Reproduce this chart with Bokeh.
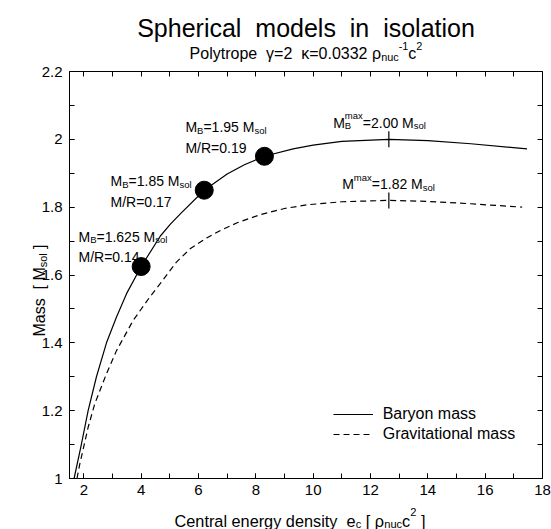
import math
from bokeh.plotting import figure
from bokeh.models import Label, Legend, LegendItem, FixedTicker, LinearAxis, Grid
from bokeh.embed import file_html
from bokeh.resources import INLINE

FONT = "Liberation Sans"

# ---- data ----
baryon_x = [1.66, 1.90, 2.15, 2.44, 2.79, 3.14, 3.49, 4.00, 4.67, 5.02, 5.40, 6.20, 7.00,
            7.60, 8.30, 9.30, 10.00, 11.00, 12.64, 14.00, 15.50, 17.46]
baryon_y = [1.000, 1.095, 1.200, 1.300, 1.400, 1.476, 1.545, 1.625, 1.715, 1.750, 1.783,
            1.850, 1.898, 1.925, 1.950, 1.972, 1.983, 1.994, 2.000, 1.996, 1.987, 1.972]
grav_x = [1.76, 1.86, 2.15, 2.38, 2.79, 3.14, 3.72, 4.30, 4.67, 5.23, 5.72, 6.30, 6.80,
          7.35, 8.16, 9.00, 9.79, 11.00, 12.64, 14.00, 15.50, 17.29]
grav_y = [1.000, 1.043, 1.151, 1.220, 1.309, 1.377, 1.466, 1.535, 1.575, 1.638, 1.678,
          1.710, 1.733, 1.754, 1.778, 1.796, 1.807, 1.816, 1.820, 1.817, 1.810, 1.800]
model_x = [4.0, 6.2, 8.3]
model_mb = [1.625, 1.85, 1.95]
model_mr = [0.14, 0.17, 0.19]
max_x = 12.64
max_mb = 2.00
max_m = 1.82

x_major = [2, 4, 6, 8, 10, 12, 14, 16, 18]
x_minor = [2, 3, 4, 5, 6, 7, 8, 9, 10, 11, 12, 13, 14, 15, 16, 17, 18]
y_major = [1.0, 1.2, 1.4, 1.6, 1.8, 2.0, 2.2]
y_major_labels = ["1", "1.2", "1.4", "1.6", "1.8", "2", "2.2"]
y_minor = [1.0, 1.1, 1.2, 1.3, 1.4, 1.5, 1.6, 1.7, 1.8, 1.9, 2.0, 2.1, 2.2]
x_lo, x_hi = 1.5, 18.0
y_lo, y_hi = 1.0, 2.2

# ---- layout (pixels) ----
WIDTH, HEIGHT = 551, 529
BOX_L, BOX_R, BOX_T, BOX_B = 69, 542, 71, 478   # plotting box inside the canvas
sx = (BOX_R - BOX_L) / (x_hi - x_lo)
sy = (BOX_B - BOX_T) / (y_hi - y_lo)
xr = (x_lo - BOX_L / sx, x_hi + (WIDTH - BOX_R) / sx)
yr = (y_lo - (HEIGHT - BOX_B) / sy, y_hi + BOX_T / sy)

p = figure(width=WIDTH, height=HEIGHT, x_range=xr, y_range=yr,
           output_backend="svg", toolbar_location=None,
           x_axis_location=None, y_axis_location=None,
           min_border_left=0, min_border_right=0, min_border_top=0, min_border_bottom=0)
p.title.visible = False
p.renderers = [r for r in p.renderers if not isinstance(r, Grid)]
p.center = [r for r in p.center if not isinstance(r, Grid)]
p.background_fill_color = "white"
p.border_fill_color = "white"
p.outline_line_color = None


def style_axis(ax):
    ax.major_tick_in = 5
    ax.major_tick_out = 0
    ax.minor_tick_in = 5
    ax.minor_tick_out = 0
    ax.axis_line_color = "black"
    ax.axis_line_width = 1
    ax.major_tick_line_color = "black"
    ax.minor_tick_line_color = "black"
    ax.major_label_text_font = FONT
    ax.major_label_text_font_size = "15px"
    ax.major_label_text_color = "black"


xaxis = LinearAxis(fixed_location=y_lo, bounds=(x_lo, x_hi),
                   ticker=FixedTicker(ticks=x_major, minor_ticks=x_minor))
style_axis(xaxis)
xaxis.major_label_standoff = 6
p.add_layout(xaxis, "below")

yaxis = LinearAxis(fixed_location=x_lo, bounds=(y_lo, y_hi),
                   ticker=FixedTicker(ticks=y_major, minor_ticks=y_minor),
                   major_label_overrides={v: l for v, l in zip(y_major, y_major_labels)})
style_axis(yaxis)
yaxis.major_label_standoff = 7
p.add_layout(yaxis, "left")

top_axis = LinearAxis(fixed_location=y_hi, bounds=(x_lo, x_hi),
                      ticker=FixedTicker(ticks=[], minor_ticks=x_minor))
style_axis(top_axis)
p.add_layout(top_axis, "above")

right_axis = LinearAxis(fixed_location=x_hi, bounds=(y_lo, y_hi),
                        ticker=FixedTicker(ticks=[], minor_ticks=y_minor))
style_axis(right_axis)
p.add_layout(right_axis, "right")

rb = p.line(baryon_x, baryon_y, line_color="black", line_width=1.2)
rg = p.line(grav_x, grav_y, line_color="black", line_width=1.2, line_dash="6 4")
p.scatter(model_x, model_mb, size=18, fill_color="black", line_color="black")
p.scatter([max_x, max_x], [max_mb, max_m], marker="dash", angle=math.pi / 2,
          size=16, line_color="black", line_width=1.2)

legend = Legend(items=[LegendItem(label="Baryon mass", renderers=[rb]),
                       LegendItem(label="Gravitational mass", renderers=[rg])],
                location=(332.7, HEIGHT - 444), padding=0, margin=0, spacing=0,
                glyph_width=40, glyph_height=20, label_height=20, label_standoff=10,
                label_text_font=FONT, label_text_font_size="16px", label_text_color="black",
                border_line_alpha=0, background_fill_alpha=0)
p.add_layout(legend, "center")

# ---- rich text helper (Arial / Liberation Sans advance widths) ----
W = {' ': 278, '\u00a0': 278, '.': 278, '=': 584, '/': 278, '[': 278, ']': 278, '-': 333,
     'γ': 500, 'κ': 500, 'ρ': 577}
for ch in "0123456789":
    W[ch] = 556
W.update(dict(zip("abcdefghijklmnopqrstuvwxyz",
                  [556, 556, 500, 556, 556, 278, 556, 556, 222, 222, 500, 222, 833, 556, 556,
                   556, 556, 333, 500, 278, 556, 500, 722, 500, 500, 500])))
W.update(dict(zip("ABCDEFGHIJKLMNOPQRSTUVWXYZ",
                  [667, 667, 722, 722, 667, 611, 778, 722, 278, 500, 667, 556, 833, 722, 778,
                   667, 778, 722, 667, 611, 722, 667, 944, 667, 667, 611])))


def tw(s, size):
    return sum(W.get(c, 556) for c in s) * size / 1000.0


SUBR = 0.68
NB = "\u00a0"


def rich(pieces, x, y, size, dx=0.0, dy=0.0, align="left", angle=0.0):
    items = []
    cur = 0.0
    fs = size * SUBR
    for pc in pieces:
        kind = pc[0]
        if kind == "n":
            items.append((pc[1], size, 0.0, cur))
            cur += tw(pc[1], size)
        elif kind == "sub":
            items.append((pc[1], fs, -0.2 * size, cur))
            cur += tw(pc[1], fs)
        elif kind == "sup":
            items.append((pc[1], fs, 0.5 * size, cur))
            cur += tw(pc[1], fs)
        elif kind == "subsup":
            items.append((pc[1], fs, -0.2 * size, cur))
            items.append((pc[2], fs, 0.5 * size, cur))
            cur += max(tw(pc[1], fs), tw(pc[2], fs))
    start = -cur / 2.0 if align == "center" else 0.0
    for t, f, shift, off in items:
        if angle == 0:
            xo, yo = dx + start + off, dy + shift
        else:
            xo, yo = dx - shift, dy + start + off
        p.add_layout(Label(x=x, y=y, x_offset=xo, y_offset=yo, text=t,
                           text_font=FONT, text_font_size=f"{f:.1f}px",
                           text_align="left", text_baseline="alphabetic",
                           angle=angle, text_color="black"))


xc = (x_lo + x_hi) / 2.0
yc = (y_lo + y_hi) / 2.0

# title and subtitle
rich([("n", f"Spherical{NB} models{NB} in{NB} isolation")], xc, y_hi, 25, dy=44, align="center")
rich([("n", f"Polytrope{NB} γ=2{NB} κ=0.0332 ρ"), ("sub", "nuc"), ("sup", "-1"), ("n", "c"),
      ("sup", "2")], xc, y_hi, 16, dy=18, align="center")

# axis titles
rich([("n", f"Central energy density{NB} e"), ("sub", "c"), ("n", f"{NB}[ ρ"), ("sub", "nuc"),
      ("n", "c"), ("sup", "2"), ("n", f"{NB}]")], xc, y_lo, 16.3, dx=-6, dy=-42, align="center")
rich([("n", f"Mass{NB} [ M"), ("sub", "sol"), ("n", f"{NB}]")], x_lo, yc, 16, dx=-30, dy=-15.5,
     align="center", angle=math.pi / 2)

# model annotations
ann_off = [(-62.7, 30, 10), (-93.7, 9, -12), (-79, 29, 8.5)]
for xm, mb, mr, (ox, oy1, oy2) in zip(model_x, model_mb, model_mr, ann_off):
    rich([("n", "M"), ("sub", "B"), ("n", f"={mb} M"), ("sub", "sol")], xm, mb, 14, dx=ox, dy=oy1)
    rich([("n", f"M/R={mr}")], xm, mb, 14, dx=ox, dy=oy2)

rich([("n", "M"), ("subsup", "B", "max"), ("n", f"={max_mb:.2f} M"), ("sub", "sol")],
     max_x, max_mb, 14, dx=-55.7, dy=16.5)
rich([("n", "M"), ("sup", "max"), ("n", f"={max_m:.2f} M"), ("sub", "sol")],
     max_x, max_m, 14, dx=-46.7, dy=16)

open("out.html", "w").write(file_html(p, INLINE))
